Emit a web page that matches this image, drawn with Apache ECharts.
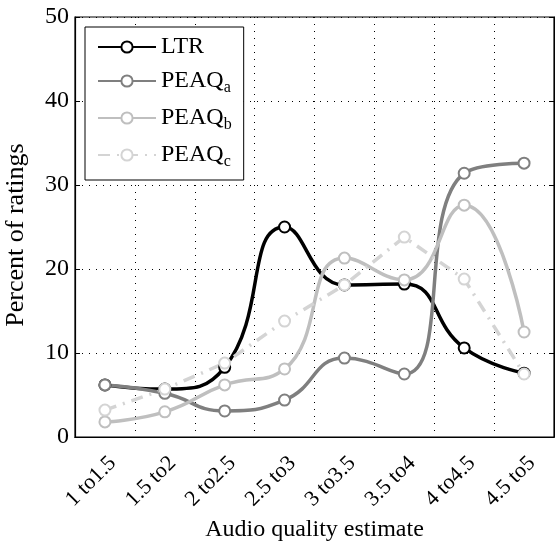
<!DOCTYPE html>
<html><head><meta charset="utf-8">
<script src="https://cdn.jsdelivr.net/npm/echarts@6/dist/echarts.min.js"></script>
<style>html,body{margin:0;padding:0;background:#fff}#c{width:558px;height:542px}</style>
</head><body><div id="c"></div>
<script>
const categories = ['1 to1.5','1.5 to2','2 to2.5','2.5 to3','3 to3.5','3.5 to4','4 to4.5','4.5 to5'];
const ltr   = [6.2, 5.7, 8.3, 25.0, 18.1, 18.2, 10.6, 7.6];
const peaqA = [6.2, 5.2, 3.1, 4.4, 9.4, 7.5, 31.4, 32.6];
const peaqB = [1.8, 3.0, 6.2, 8.1, 21.3, 18.7, 27.6, 12.5];
const peaqC = [3.2, 5.7, 8.8, 13.8, 18.1, 23.8, 18.8, 7.5];
const yTicks = [0, 10, 20, 30, 40, 50];

const FONT = 'Liberation Serif';
const chart = echarts.init(document.getElementById('c'));
function mk(name, data, color, dash, smooth) {
  return {
    name, type: 'line', data, smooth, symbol: 'emptyCircle', symbolSize: 11,
    lineStyle: { color, width: 3.5, type: dash },
    itemStyle: { color, borderWidth: 3 },
    emphasis: { disabled: true }, animation: false
  };
}
chart.setOption({
  animation: false,
  grid: { left: 75, right: 4, top: 17, bottom: 105, show: true, borderColor: '#000', borderWidth: 1.2,
          containLabel: false, outerBoundsMode: 'none' },
  legend: {
    left: 85, top: 27, orient: 'vertical', backgroundColor: '#fff', borderColor: '#000', borderWidth: 1,
    padding: [8, 12, 10, 12], itemWidth: 58, itemHeight: 14, itemGap: 10,
    textStyle: { fontFamily: FONT, fontSize: 24, color: '#000',
      rich: { n: { fontFamily: FONT, fontSize: 24, lineHeight: 30, color: '#000' },
              s: { fontFamily: FONT, fontSize: 16, color: '#000', padding: [14, 0, 0, 0] } } },
    formatter: function (name) {
      if (name === 'LTR') return '{n|LTR}';
      return '{n|PEAQ}{s|' + name.slice(5) + '}';
    },
    data: ['LTR', 'PEAQ_a', 'PEAQ_b', 'PEAQ_c']
  },
  xAxis: [{
    type: 'category', data: categories, boundaryGap: true,
    name: 'Audio quality estimate', nameLocation: 'middle', nameGap: 80,
    nameTextStyle: { fontFamily: FONT, fontSize: 24, color: '#000' },
    axisLine: { lineStyle: { color: '#000', width: 1.2 } },
    axisTick: { inside: true, alignWithLabel: true, length: 5, lineStyle: { color: '#000' } },
    axisLabel: { rotate: 45, fontFamily: FONT, fontSize: 22, color: '#000', margin: 15, verticalAlign: 'top' },
    splitLine: { show: true, lineStyle: { color: '#000', type: [1, 6], width: 1 } }
  }, {
    type: 'category', data: categories, position: 'top', boundaryGap: true,
    axisLine: { lineStyle: { color: '#000' } },
    axisTick: { inside: true, alignWithLabel: true, length: 5, lineStyle: { color: '#000' } },
    axisLabel: { show: false }, splitLine: { show: false }
  }],
  yAxis: [{
    type: 'value', min: 0, max: 50, interval: 10,
    name: 'Percent of ratings', nameLocation: 'middle', nameGap: 46,
    nameTextStyle: { fontFamily: FONT, fontSize: 26, color: '#000', padding: [0, 16, 0, 0] },
    axisLine: { show: true, lineStyle: { color: '#000', width: 1.2 } },
    axisTick: { show: true, inside: true, length: 5, lineStyle: { color: '#000' } },
    axisLabel: { fontFamily: FONT, fontSize: 24, color: '#000', margin: 6,
      formatter: v => yTicks.includes(v) ? String(v) : '' },
    splitLine: { show: true, lineStyle: { color: '#000', type: [1, 6], width: 1 } }
  }, {
    type: 'value', min: 0, max: 50, interval: 10, position: 'right',
    axisLine: { show: true, lineStyle: { color: '#000' } },
    axisTick: { show: true, inside: true, length: 5, lineStyle: { color: '#000' } },
    axisLabel: { show: false }, splitLine: { show: false }
  }],
  series: [
    mk('LTR', ltr, '#000000', 'solid', 0.5),
    mk('PEAQ_a', peaqA, '#7f7f7f', 'solid', 0.5),
    mk('PEAQ_b', peaqB, '#bfbfbf', 'solid', 0.5),
    mk('PEAQ_c', peaqC, '#d4d4d4', [12, 7, 2, 7], false)
  ]
});
</script></body></html>
